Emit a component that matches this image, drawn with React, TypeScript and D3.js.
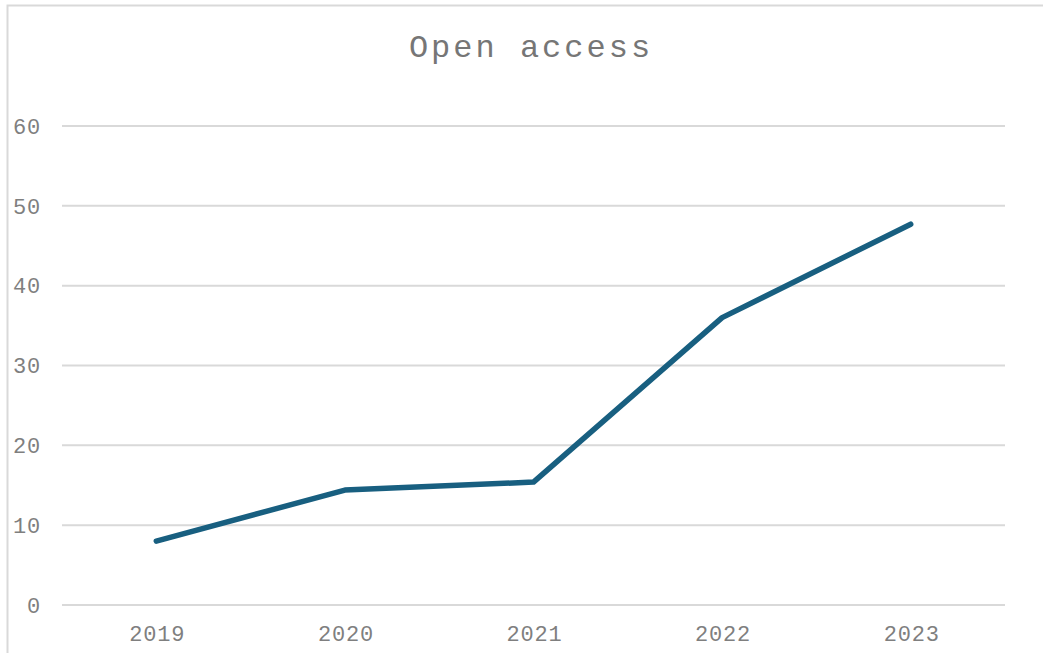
import React from "react";
import * as d3 from "d3";

const categories = ["2019", "2020", "2021", "2022", "2023"];
const values = [8.0, 14.4, 15.4, 36.0, 47.7];
const yTicks = [0, 10, 20, 30, 40, 50, 60];
const title = "Open access";

const W = 1043;
const H = 653;
const left = 62;
const right = 1005;
const top = 126;
const bottom = 605;

export default function App() {
  const x = d3.scaleBand<string>().domain(categories).range([left, right]);
  const y = d3.scaleLinear().domain([0, 60]).range([bottom, top]);
  const line = d3
    .line<number>()
    .x((_, i) => (x(categories[i]) as number) + x.bandwidth() / 2)
    .y((d) => y(d));
  const font = "'Liberation Mono', 'Courier New', monospace";
  return (
    <svg
      width={W}
      height={H}
      style={{ position: "absolute", left: 0, top: 0, background: "#fff" }}
    >
      <rect x={7.5} y={5.5} width={1100} height={700} fill="#fff" stroke="#d9d9d9" strokeWidth={2} />
      <text
        x={531}
        y={57}
        textAnchor="middle"
        fontFamily={font}
        fontSize={32}
        letterSpacing={3}
        fill="#767676"
      >
        {title}
      </text>
      {yTicks.map((t) => (
        <g key={t}>
          <line x1={left} x2={right} y1={y(t)} y2={y(t)} stroke="#d9d9d9" strokeWidth={2} />
          <text
            x={41}
            y={y(t)}
            dy="0.35em"
            textAnchor="end"
            fontFamily={font}
            fontSize={22}
            letterSpacing={0.8}
            fill="#7f7f7f"
          >
            {t}
          </text>
        </g>
      ))}
      {categories.map((c) => (
        <text
          key={c}
          x={(x(c) as number) + x.bandwidth() / 2 + 1}
          y={641}
          textAnchor="middle"
          fontFamily={font}
          fontSize={22}
          letterSpacing={0.8}
          fill="#7f7f7f"
        >
          {c}
        </text>
      ))}
      <path
        d={line(values) || ""}
        fill="none"
        stroke="#185f80"
        strokeWidth={5.5}
        strokeLinejoin="round"
        strokeLinecap="round"
      />
    </svg>
  );
}
